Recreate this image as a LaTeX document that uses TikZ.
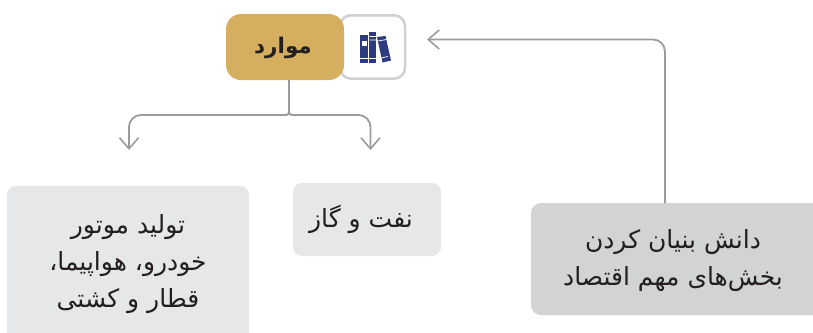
\documentclass[tikz,border=0pt]{standalone}
\usepackage{fontspec}
\usetikzlibrary{arrows.meta}
\TeXXeTstate=1
\newfontfamily\arabicfont[Script=Arabic]{DejaVu Sans}
\definecolor{goldc}{HTML}{D6AE5F}
\definecolor{lightc}{HTML}{E6E7E9}
\definecolor{midc}{HTML}{D1D3D5}
\definecolor{linec}{HTML}{9A9B9E}
\definecolor{iconb}{HTML}{CFD0D2}
\definecolor{bookc}{HTML}{2E3A80}
\definecolor{inkc}{HTML}{231F20}
\tikzset{
  x=1pt,y=-1pt,
  txt/.style={font=\arabicfont\fontsize{25}{37}\selectfont,text=inkc,align=center,inner sep=0pt},
  boxa/.style={fill=lightc,rounded corners=9pt},
  boxc/.style={fill=midc,rounded corners=10pt},
  conn/.style={draw=linec,line width=1.8pt},
  tip/.style={-{Straight Barb[length=11pt,width=19pt,line width=1.6pt]}},
}
\begin{document}
\begin{tikzpicture}
\useasboundingbox (0,0) rectangle (813,332);
% icon box and title
\draw[iconb,line width=2.5pt,fill=white,rounded corners=11pt] (340,15.3) rectangle (405,78.7);
\fill[goldc,rounded corners=15pt] (226,14) rectangle (344,80);
\node[txt,font=\arabicfont\bfseries\fontsize{21.5}{24}\selectfont] (title) at (283,48) {\beginR موارد\endR};
% books
\fill[bookc] (360,35) rectangle (368.4,62.5);
\fill[bookc] (369.3,32) rectangle (376,62.5);
\fill[bookc] (377,37) -- (385.5,36) -- (391,60.5) -- (382.5,62.5) -- cycle;
\fill[white] (361.5,41) rectangle (367,46);
\draw[white,line width=.7pt] (360,58.5) -- (376,58.5) (369.3,36.5) -- (376,36.5) (369.3,40) -- (376,40)
  (378,41) -- (386.5,39.5) (387.8,56.5) -- (381.2,58);
% boxes
\path[boxa] (7,186) rectangle (249,345);
\path[boxa] (293,183) rectangle (441,256);
\path[boxc] (531,203) rectangle (825,315);
\node[txt] (a) at (128,264.5) {\beginR تولید موتور\endR\\ \beginR خودرو، هواپیما،\endR\\ \beginR قطار و کشتی\endR};
\node[txt] (b) at (361,219) {\beginR نفت و گاز\endR};
\node[txt] (c) at (673,261) {\beginR دانش بنیان کردن\endR\\ \beginR بخش‌های مهم اقتصاد\endR};
% connector anchors
\coordinate (top) at (289,80);
\coordinate (mid) at (289,115);
\coordinate (l) at (129,150);
\coordinate (r) at (370.5,150);
\coordinate (cs) at (665,203);
\coordinate (ce) at (427,39.5);
\draw[conn,tip,rounded corners=3pt] (top) -- (mid) [rounded corners=12pt] -| (l);
\draw[conn,tip,rounded corners=3pt] (top) -- (mid) [rounded corners=12pt] -| (r);
\draw[conn,tip,rounded corners=12pt] (cs) |- (ce);
\end{tikzpicture}
\end{document}
